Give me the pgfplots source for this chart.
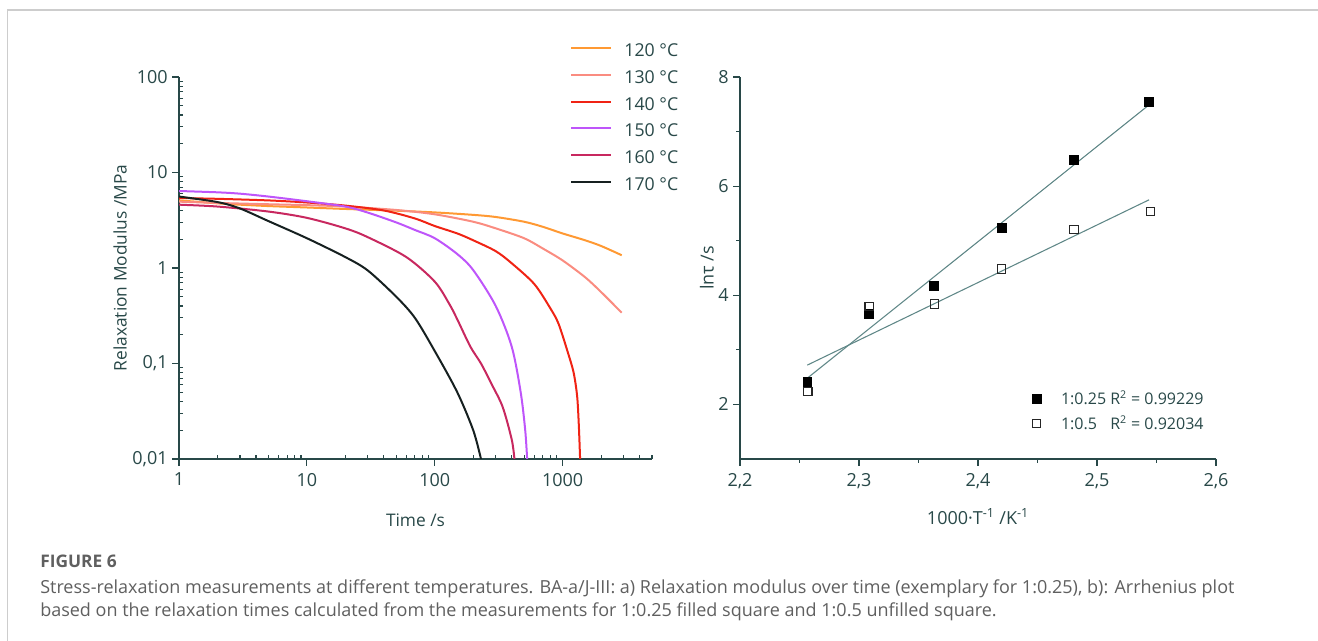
\documentclass[border=0pt]{standalone}
\usepackage{fontspec}
\setmainfont{Open Sans}
\usepackage{pgfplots}
\pgfplotsset{compat=1.18}
\definecolor{axiscol}{RGB}{40,72,72}
\definecolor{c120}{RGB}{255,153,51}
\definecolor{c130}{RGB}{250,140,128}
\definecolor{c140}{RGB}{240,35,20}
\definecolor{c150}{RGB}{190,85,250}
\definecolor{c160}{RGB}{200,40,95}
\definecolor{c170}{RGB}{22,32,32}
\definecolor{fitcol}{RGB}{95,135,135}
\definecolor{capcol}{RGB}{95,95,95}
\definecolor{bordercol}{RGB}{205,205,205}
\begin{document}
\begin{tikzpicture}[x=0.75pt,y=0.75pt]
\path[use as bounding box] (0,0) rectangle (1318,641);
\draw[bordercol, line width=1.2pt] (7.5,0) -- (7.5,631) -- (1318,631);
% ---------- left axis ----------
\begin{axis}[
  at={(134.25pt,136.5pt)}, anchor=south west,
  scale only axis, width=354.75pt, height=286.5pt,
  xmode=log, ymode=log,
  xmin=1, xmax=5000, ymin=0.01, ymax=100,
  axis lines=left, axis line style={draw=axiscol, line width=0.9pt, -},
  xtick={1,10,100,1000}, xticklabels={1,10,100,1000},
  ytick={0.01,0.1,1,10,100}, yticklabels={{0,01},{0,1},1,10,100},
  minor xtick={2,3,4,5,6,7,8,9,20,30,40,50,60,70,80,90,200,300,400,500,600,700,800,900,2000,3000,4000,5000},
  minor ytick={0.02,0.03,0.04,0.05,0.06,0.07,0.08,0.09,0.2,0.3,0.4,0.5,0.6,0.7,0.8,0.9,2,3,4,5,6,7,8,9,20,30,40,50,60,70,80,90},
  tick align=outside, major tick length=5pt, minor tick length=-3pt,
  tick style={draw=axiscol, line width=0.8pt},
  ticklabel style={font=\fontsize{13.5}{15}\selectfont, text=axiscol},
  xticklabel style={yshift=-2pt},
  xlabel={Time /s}, ylabel={Relaxation Modulus /MPa},
  label style={font=\fontsize{13}{15}\selectfont, text=axiscol},
  xlabel style={at={(axis description cs:0.5,-0.1597)}, anchor=center},
  ylabel style={at={(axis description cs:-0.1247,0.5)}, anchor=center},
  legend style={at={(axis description cs:0.8185,1.097)}, anchor=north west,
    draw=none, fill=none, font=\fontsize{13.3}{15}\selectfont, text=axiscol,
    row sep=5.5pt, nodes={inner xsep=0pt, inner ysep=1pt, text height=9.5pt, text depth=3pt},
    /tikz/every odd column/.style={column sep=9pt}},
  legend cell align=left,
  legend image code/.code={\draw[#1, line width=1.5pt] (0pt,3.25pt) -- (30pt,3.25pt);},
  every axis plot/.append style={line width=1.5pt, smooth, tension=0.5},
]
\addplot[c120] coordinates {(1,5.1) (1.5,4.9) (2,4.75) (3,4.6) (5,4.45) (10,4.3) (20,4.15) (50,3.98) (100,3.82) (200,3.6) (300,3.42) (500,3.05) (700,2.7) (1000,2.3) (1500,1.95) (2000,1.7) (2900,1.36)};
\addlegendentry{120 °C}
\addplot[c130] coordinates {(1,4.95) (2,4.8) (5,4.65) (10,4.55) (20,4.4) (50,4.05) (100,3.65) (200,3.05) (300,2.6) (500,2.05) (700,1.6) (1000,1.2) (1500,0.8) (2000,0.56) (2900,0.34)};
\addlegendentry{130 °C}
\addplot[c140] coordinates {(1,5.4) (2,5.3) (5,5.1) (10,4.85) (20,4.5) (40,4.0) (70,3.3) (100,2.75) (150,2.3) (200,1.95) (300,1.5) (400,1.12) (600,0.68) (800,0.38) (930,0.26) (1100,0.13) (1220,0.08) (1300,0.045) (1340,0.022) (1370,0.01)};
\addlegendentry{140 °C}
\addplot[c150] coordinates {(1,6.4) (2,6.2) (3,6.0) (5,5.6) (10,5.0) (20,4.4) (30,3.8) (50,3.0) (70,2.5) (100,2.05) (150,1.4) (200,0.95) (300,0.4) (400,0.15) (470,0.05) (510,0.02) (528,0.01)};
\addlegendentry{150 °C}
\addplot[c160] coordinates {(1,4.6) (2,4.4) (5,3.9) (10,3.35) (20,2.6) (30,2.1) (60,1.3) (100,0.72) (130,0.42) (150,0.29) (190,0.15) (230,0.1) (280,0.06) (340,0.035) (400,0.016) (420,0.01)};
\addlegendentry{160 °C}
\addplot[c170] coordinates {(1,5.6) (2,4.9) (3,4.2) (5,3.1) (10,2.05) (20,1.3) (30,0.94) (50,0.5) (70,0.3) (100,0.135) (150,0.05) (200,0.02) (230,0.01)};
\addlegendentry{170 °C}
\end{axis}
% ---------- right axis ----------
\begin{axis}[
  at={(555pt,136.5pt)}, anchor=south west,
  scale only axis, width=357pt, height=286.5pt,
  xmin=2.2, xmax=2.6, ymin=1, ymax=8,
  axis lines=left, axis line style={draw=axiscol, line width=0.9pt, -},
  xtick={2.2,2.3,2.4,2.5,2.6}, xticklabels={{2,2},{2,3},{2,4},{2,5},{2,6}},
  ytick={2,4,6,8}, yticklabels={2,4,6,8},
  minor xtick={2.25,2.35,2.45,2.55}, minor ytick={3,5,7},
  tick align=outside, major tick length=5pt, minor tick length=3pt,
  tick style={draw=axiscol, line width=0.8pt},
  ticklabel style={font=\fontsize{13.5}{15}\selectfont, text=axiscol},
  xticklabel style={yshift=-2pt},
  xlabel={1000·T\textsuperscript{-1} /K\textsuperscript{-1}}, ylabel={lnτ /s},
  label style={font=\fontsize{13.5}{15}\selectfont, text=axiscol},
  xlabel style={at={(axis description cs:0.5,-0.1518)}, anchor=center},
  ylabel style={at={(axis description cs:-0.0693,0.5)}, anchor=center},
  legend style={at={(axis description cs:0.605,0.19)}, anchor=north west,
    draw=none, fill=none, font=\fontsize{12}{14}\selectfont, text=axiscol,
    row sep=5pt, nodes={inner xsep=0pt, inner ysep=1pt},
    /tikz/every odd column/.style={column sep=15pt}},
  legend cell align=left,
]
\addplot[fitcol, line width=0.8pt, forget plot] coordinates {(2.2565,2.48) (2.5438,7.49)};
\addplot[fitcol, line width=0.8pt, forget plot] coordinates {(2.2565,2.72) (2.5438,5.75)};
\addplot[only marks, mark=square*, mark size=3.3pt, mark options={fill=black, draw=black}] coordinates {(2.2565,2.41) (2.3085,3.66) (2.3628,4.17) (2.4200,5.23) (2.4806,6.49) (2.5438,7.55)};
\addlegendentry{1:0.25 R\textsuperscript{2} = 0.99229}
\addplot[only marks, mark=square, mark size=3.1pt, mark options={draw=black!85, fill=white, line width=0.8pt}] coordinates {(2.2570,2.24) (2.3085,3.80) (2.3634,3.84) (2.4200,4.48) (2.4806,5.20) (2.5450,5.54)};
\addlegendentry{\rlap{1:0.5}\phantom{1:0.25} R\textsuperscript{2} = 0.92034}
\end{axis}
% ---------- caption ----------
\node[anchor=base west, inner sep=0pt, text=capcol, font=\fontsize{13}{15}\selectfont\bfseries] at (40,73) {FIGURE 6};
\node[anchor=base west, inner sep=0pt, text=capcol, font=\fontsize{13.5}{15}\selectfont] at (40,47) {Stress-relaxation measurements at different temperatures. BA-a/J-III: a) Relaxation modulus over time (exemplary for 1:0.25), b): Arrhenius plot};
\node[anchor=base west, inner sep=0pt, text=capcol, font=\fontsize{13.5}{15}\selectfont] at (40,24) {based on the relaxation times calculated from the measurements for 1:0.25 filled square and 1:0.5 unfilled square.};
\end{tikzpicture}
\end{document}
